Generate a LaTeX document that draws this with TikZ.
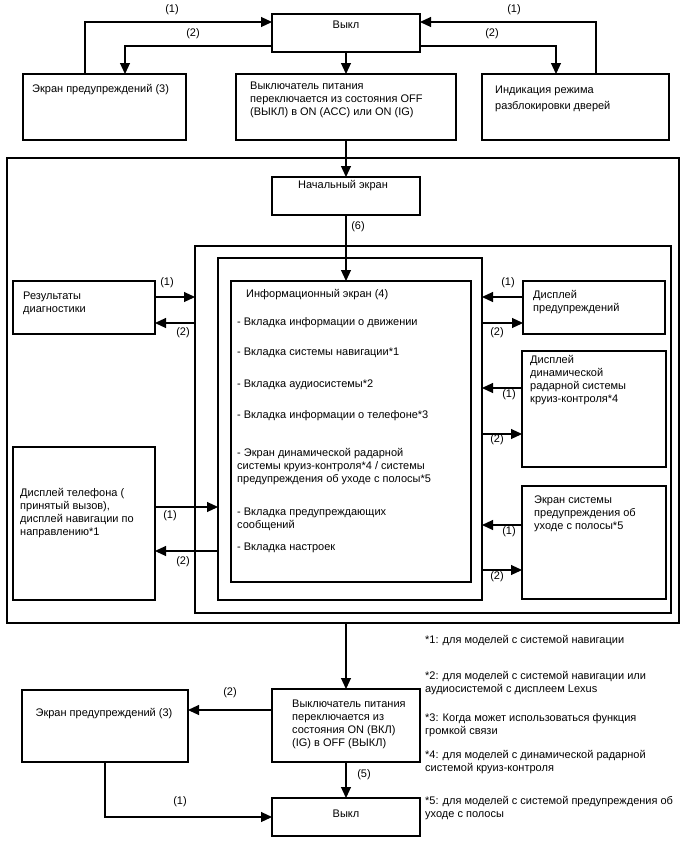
\documentclass[tikz,border=0pt]{standalone}
\usepackage{fontspec}
\setmainfont{Liberation Sans}
\usetikzlibrary{arrows.meta}
\newcommand\mybox[5]{\node[box, minimum width={#4-#2}, minimum height={#5-#3}] (#1) at (#2,#3) {};}
\begin{document}
\begin{tikzpicture}[x=1pt,y=-1pt,
  box/.style={draw, line width=1.1pt, inner sep=0pt, outer sep=0pt, anchor=north west},
  txt/.style={font=\fontsize{11}{13}\selectfont, inner sep=0pt, align=left, anchor=west},
  lbl/.style={font=\fontsize{11}{13}\selectfont, inner sep=0pt},
  arr/.style={line width=1.1pt, -{Triangle[length=11pt,width=10pt]}}]
\useasboundingbox (0,0) rectangle (688,852);
% boxes
\mybox{off1}{272}{14}{420}{52}
\mybox{warn1}{23}{74}{186}{140}
\mybox{sw1}{236}{74}{456}{140}
\mybox{unlock}{482}{74}{669}{140}
\mybox{outer}{7}{158}{679}{623}
\mybox{start}{272}{177}{420}{215}
\mybox{boxA}{195}{246}{671}{613}
\mybox{boxB}{218}{258}{482}{600}
\mybox{info}{231}{281}{471}{582}
\mybox{res}{13}{281}{155}{334}
\mybox{phone}{13}{447}{155}{600}
\mybox{dw}{523}{281}{665}{334}
\mybox{acc}{522}{351}{666}{467}
\mybox{lda}{522}{486}{666}{599}
\mybox{sw2}{272}{689}{420}{762}
\mybox{warn2}{22}{690}{188}{762}
\mybox{off2}{272}{798}{420}{836}
% texts
\node[lbl] (t-off1) at (346,25) {Выкл};
\node[txt] (t-warn1) at (32,90) {Экран предупреждений (3)};
\node[txt] (t-sw1) at (250,100) {Выключатель питания\\переключается из состояния OFF\\(ВЫКЛ) в ON (ACC) или ON (IG)};
\node[txt, font=\fontsize{11}{16}\selectfont] (t-unlock) at (495,99) {Индикация режима\\разблокировки дверей};
\node[lbl] (t-start) at (343,186) {Начальный экран};
\node[txt] (t-info0) at (246,295) {Информационный экран (4)};
\node[txt] (t-info1) at (237,323) {- Вкладка информации о движении};
\node[txt] (t-info2) at (237,353) {- Вкладка системы навигации*1};
\node[txt] (t-info3) at (237,385) {- Вкладка аудиосистемы*2};
\node[txt] (t-info4) at (237,416) {- Вкладка информации о телефоне*3};
\node[txt] (t-info5) at (237,467) {- Экран динамической радарной\\системы круиз-контроля*4 / системы\\предупреждения об уходе с полосы*5};
\node[txt] (t-info6) at (237,519.5) {- Вкладка предупреждающих\\сообщений};
\node[txt] (t-info7) at (237,548) {- Вкладка настроек};
\node[txt] (t-res) at (23,303.5) {Результаты\\диагностики};
\node[txt] (t-phone) at (20,513) {Дисплей телефона (\\принятый вызов),\\дисплей навигации по\\направлению*1};
\node[txt] (t-dw) at (533,302.5) {Дисплей\\предупреждений};
\node[txt] (t-acc) at (530,380.5) {Дисплей\\динамической\\радарной системы\\круиз-контроля*4};
\node[txt] (t-lda) at (534,513.5) {Экран системы\\предупреждения об\\уходе с полосы*5};
\node[txt] (t-sw2) at (292,724.5) {Выключатель питания\\переключается из\\состояния ON (ВКЛ)\\(IG) в OFF (ВЫКЛ)};
\node[lbl] (t-warn2) at (104,714) {Экран предупреждений (3)};
\node[lbl] (t-off2) at (346,814) {Выкл};
% footnotes
\node[txt] (f1) at (425,641) {*1: для моделей с системой навигации};
\node[txt] (f2) at (425,683.5) {*2: для моделей с системой навигации или\\аудиосистемой с дисплеем Lexus};
\node[txt] (f3) at (425,725.5) {*3: Когда может использоваться функция\\громкой связи};
\node[txt] (f4) at (425,762.5) {*4: для моделей с динамической радарной\\системой круиз-контроля};
\node[txt] (f5) at (425,808.5) {*5: для моделей с системой предупреждения об\\уходе с полосы};
% connectors
\draw[arr] (85,0 |- warn1.north) |- (off1.west |- 0,22);
\draw[arr] (off1.west |- 0,46) -| (125,0 |- warn1.north);
\draw[arr] (596,0 |- unlock.north) |- (off1.east |- 0,22);
\draw[arr] (off1.east |- 0,46) -| (556,0 |- unlock.north);
\draw[arr] (off1.south) -- (sw1.north);
\draw[arr] (sw1.south) -- (start.north);
\draw[arr] (start.south) -- (start.south |- info.north);
\draw[arr] (res.east |- 0,297) -- (boxA.west |- 0,297);
\draw[arr] (boxA.west |- 0,323) -- (res.east |- 0,323);
\draw[arr] (phone.east |- 0,507) -- (boxB.west |- 0,507);
\draw[arr] (boxB.west |- 0,551) -- (phone.east |- 0,551);
\draw[arr] (dw.west |- 0,297) -- (boxB.east |- 0,297);
\draw[arr] (boxB.east |- 0,323) -- (dw.west |- 0,323);
\draw[arr] (acc.west |- 0,388) -- (boxB.east |- 0,388);
\draw[arr] (boxB.east |- 0,434) -- (acc.west |- 0,434);
\draw[arr] (lda.west |- 0,525) -- (boxB.east |- 0,525);
\draw[arr] (boxB.east |- 0,570) -- (lda.west |- 0,570);
\draw[arr] (sw2.north |- outer.south) -- (sw2.north);
\draw[arr] (sw2.west |- 0,710) -- (warn2.east |- 0,710);
\draw[arr] (105,0 |- warn2.south) |- (off2.west);
\draw[arr] (sw2.south) -- (off2.north);
% labels
\node[lbl] (a1) at (172,10) {(1)};
\node[lbl] (a2) at (193,34) {(2)};
\node[lbl] (a3) at (514,10) {(1)};
\node[lbl] (a4) at (492,34) {(2)};
\node[lbl] (a5) at (358,227) {(6)};
\node[lbl] (a6) at (167,283) {(1)};
\node[lbl] (a7) at (183,333) {(2)};
\node[lbl] (a8) at (170,516) {(1)};
\node[lbl] (a9) at (183,562) {(2)};
\node[lbl] (a10) at (508,283) {(1)};
\node[lbl] (a11) at (497,333) {(2)};
\node[lbl] (a12) at (509,395) {(1)};
\node[lbl] (a13) at (497,440) {(2)};
\node[lbl] (a14) at (509,532) {(1)};
\node[lbl] (a15) at (497,577) {(2)};
\node[lbl] (a16) at (230,693) {(2)};
\node[lbl] (a17) at (180,802) {(1)};
\node[lbl] (a18) at (364,775) {(5)};
\end{tikzpicture}
\end{document}
